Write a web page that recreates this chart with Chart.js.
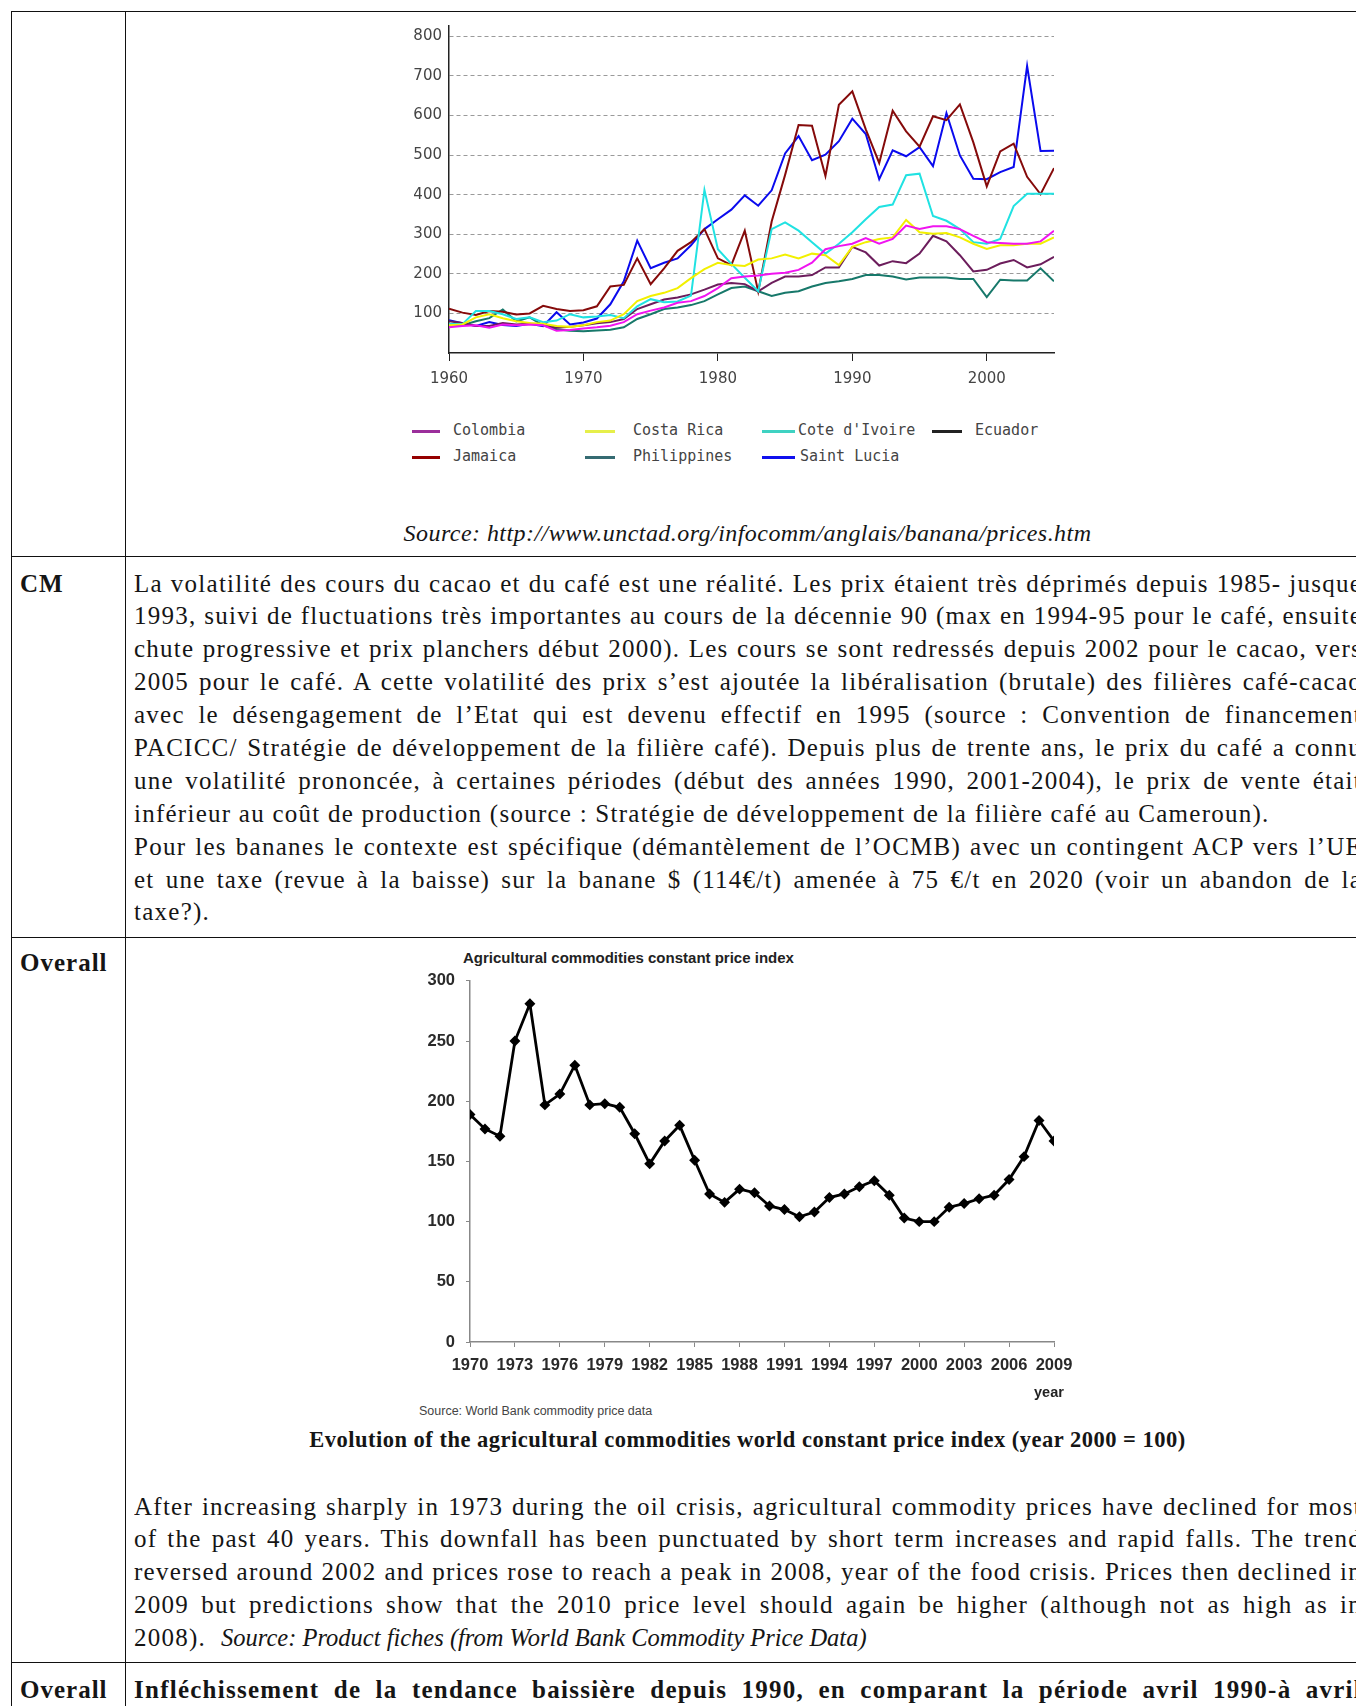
<!DOCTYPE html>
<html>
<head>
<meta charset="utf-8">
<script src="https://cdn.jsdelivr.net/npm/chart.js@4.4.1/dist/chart.umd.min.js"></script>
<style>
  html, body { margin: 0; padding: 0; }
  body {
    width: 1356px; height: 1706px; position: relative; overflow: hidden;
    background: #fff; color: #151515;
    font-family: "Liberation Serif", "Times New Roman", serif;
  }
  .hl { position: absolute; left: 11px; width: 1345px; height: 1px; background: #111; }
  .vl { position: absolute; top: 11px; width: 1px; height: 1695px; background: #111; }
  .label { position: absolute; left: 20px; font-weight: bold; font-size: 25px; letter-spacing: 1px; line-height: 32px; }
  .para { position: absolute; left: 134px; width: 1228px; font-size: 25px; letter-spacing: 1.25px; }
  .para div { height: 32.9px; line-height: 32.9px; overflow: hidden; text-align: justify; text-align-last: justify; }
  .para div.last { text-align-last: left; }
  .para i { letter-spacing: 0; font-size: 24.5px; }
  .centred { position: absolute; left: 125px; width: 1245px; text-align: center; }
  canvas { position: absolute; }
  #legend { position: absolute; left: 0; top: 0; font-family: "DejaVu Sans Mono", monospace; font-size: 15px; color: #444; }
  #legend .sw { position: absolute; height: 3px; }
  #legend .tx { position: absolute; line-height: 18px; white-space: nowrap; }
  .small { position: absolute; font-family: "Liberation Sans", Arial, sans-serif; white-space: nowrap; }
</style>
</head>
<body>

<!-- table rules -->
<div class="hl" style="top:11px"></div>
<div class="hl" style="top:556px"></div>
<div class="hl" style="top:937px"></div>
<div class="hl" style="top:1662px"></div>
<div class="vl" style="left:11px"></div>
<div class="vl" style="left:125px"></div>

<!-- row 1 : banana prices -->
<canvas id="banana" width="700" height="400" style="left:380px;top:10px"></canvas>
<div id="legend"></div>
<div class="centred" style="top:517px;font-size:24px;line-height:32px;font-style:italic;letter-spacing:0.45px">Source: http://www.unctad.org/infocomm/anglais/banana/prices.htm</div>

<!-- row 2 : CM -->
<div class="label" style="top:568px">CM</div>
<div class="para" style="top:567.5px">
  <div>La volatilité des cours du cacao et du café est une réalité. Les prix étaient très déprimés depuis 1985- jusque</div>
  <div>1993, suivi de fluctuations très importantes au cours de la décennie 90 (max en 1994-95 pour le café, ensuite</div>
  <div>chute progressive et prix planchers début 2000). Les cours se sont redressés depuis 2002 pour le cacao, vers</div>
  <div>2005 pour le café. A cette volatilité des prix s’est ajoutée la libéralisation (brutale) des filières café-cacao</div>
  <div>avec le désengagement de l’Etat qui est devenu effectif en 1995 (source : Convention de financement</div>
  <div>PACICC/ Stratégie de développement de la filière café). Depuis plus de trente ans, le prix du café a connu</div>
  <div>une volatilité prononcée, à certaines périodes (début des années 1990, 2001-2004), le prix de vente était</div>
  <div class="last">inférieur au coût de production (source : Stratégie de développement de la filière café au Cameroun).</div>
  <div>Pour les bananes le contexte est spécifique (démantèlement de l’OCMB) avec un contingent ACP vers l’UE</div>
  <div>et une taxe (revue à la baisse) sur la banane $ (114€/t) amenée à 75 €/t en 2020 (voir un abandon de la</div>
  <div class="last">taxe?).</div>
</div>

<!-- row 3 : Overall, price index -->
<div class="label" style="top:947px">Overall</div>
<div class="small" style="left:463px;top:949px;font-size:15px;font-weight:bold;color:#222">Agricultural commodities constant price index</div>
<canvas id="index" width="700" height="430" style="left:400px;top:960px"></canvas>
<div class="small" style="left:1034px;top:1384px;font-size:14.5px;font-weight:bold;color:#222">year</div>
<div class="small" style="left:419px;top:1404px;font-size:12.5px;color:#444">Source: World Bank commodity price data</div>
<div class="centred" style="top:1424px;font-size:22.5px;line-height:32px;font-weight:bold;letter-spacing:0.5px">Evolution of the agricultural commodities world constant price index (year 2000 = 100)</div>
<div class="para" style="top:1490.5px">
  <div>After increasing sharply in 1973 during the oil crisis, agricultural commodity prices have declined for most</div>
  <div>of the past 40 years. This downfall has been punctuated by short term increases and rapid falls. The trend</div>
  <div>reversed around 2002 and prices rose to reach a peak in 2008, year of the food crisis. Prices then declined in</div>
  <div>2009 but predictions show that the 2010 price level should again be higher (although not as high as in</div>
  <div class="last">2008).&nbsp; <i>Source: Product fiches (from World Bank Commodity Price Data)</i></div>
</div>

<!-- row 4 -->
<div class="label" style="top:1674px">Overall</div>
<div class="para" style="top:1673.5px;font-weight:bold">
  <div>Infléchissement de la tendance baissière depuis 1990, en comparant la période avril 1990-à avril</div>
</div>

<script>
// ---- banana prices, 1960-2005 ----
const years = [1960, 1961, 1962, 1963, 1964, 1965, 1966, 1967, 1968, 1969,
               1970, 1971, 1972, 1973, 1974, 1975, 1976, 1977, 1978, 1979,
               1980, 1981, 1982, 1983, 1984, 1985, 1986, 1987, 1988, 1989,
               1990, 1991, 1992, 1993, 1994, 1995, 1996, 1997, 1998, 1999,
               2000, 2001, 2002, 2003, 2004, 2005];

const colombia    = [65, 68, 70, 64, 72, 70, 72, 70, 56, 58,
                     62, 65, 69, 78, 98, 107, 115, 127, 131, 144,
                     164, 189, 193, 196, 200, 203, 210, 228, 262, 270,
                     276, 290, 276, 288, 322, 313, 320, 320, 313, 296,
                     280, 278, 276, 276, 282, 309];
const costaRica   = [70, 72, 90, 98, 88, 80, 76, 74, 68, 66,
                     70, 78, 82, 98, 131, 144, 152, 164, 189, 212,
                     228, 222, 220, 236, 239, 249, 239, 251, 247, 222,
                     268, 280, 288, 292, 336, 305, 301, 303, 292, 276,
                     263, 272, 272, 276, 276, 292];
const coteIvoire  = [73, 73, 106, 106, 98, 86, 90, 78, 82, 98,
                     90, 92, 96, 88, 118, 136, 128, 130, 145, 412,
                     262, 225, 190, 156, 313, 330, 309, 280, 251, 276,
                     305, 338, 369, 375, 449, 453, 346, 334, 313, 280,
                     276, 288, 371, 402, 402, 402];
const ecuador     = [80, 76, 68, 68, 76, 72, 74, 72, 64, 66,
                     70, 75, 78, 86, 111, 123, 135, 140, 148, 160,
                     173, 177, 174, 156, 177, 193, 193, 197, 216, 216,
                     268, 254, 221, 232, 227, 251, 296, 282, 247, 206,
                     210, 226, 235, 216, 224, 243];
const jamaica     = [112, 102, 96, 106, 104, 97, 100, 119, 111, 106,
                     108, 118, 168, 172, 239, 174, 214, 258, 280, 313,
                     239, 222, 309, 155, 332, 450, 576, 574, 447, 627,
                     661, 565, 480, 612, 560, 521, 598, 588, 628, 532,
                     421, 509, 529, 445, 401, 467];
const philippines = [70, 70, 80, 88, 110, 80, 90, 70, 60, 56,
                     55, 57, 59, 65, 86, 98, 111, 115, 121, 131,
                     148, 164, 168, 156, 144, 152, 156, 168, 177, 181,
                     187, 197, 197, 193, 186, 191, 191, 191, 187, 187,
                     141, 185, 183, 183, 214, 181];
const saintLucia  = [83, 75, 68, 78, 71, 68, 74, 68, 103, 72,
                     77, 87, 123, 181, 284, 214, 228, 239, 272, 313,
                     338, 362, 398, 372, 411, 504, 548, 487, 501, 535,
                     592, 553, 439, 512, 497, 520, 472, 606, 499, 440,
                     439, 457, 470, 725, 510, 511];

const seriesNames  = ['Colombia', 'Costa Rica', "Cote d'Ivoire", 'Ecuador', 'Jamaica', 'Philippines', 'Saint Lucia'];
const seriesValues = [colombia, costaRica, coteIvoire, ecuador, jamaica, philippines, saintLucia];
const lineColors   = ['#f014f0', '#f2f000', '#20e2e2', '#6c1d5c', '#850a0a', '#17786a', '#0a0aee'];
const swatchColors = ['#9b2f9b', '#e6ef4a', '#3fd2c2', '#222222', '#950000', '#356b72', '#1010ee'];

const bananaYTicks = [100, 200, 300, 400, 500, 600, 700, 800];
const bananaXTicks = [1960, 1970, 1980, 1990, 2000];

// ---- agricultural commodities constant price index, 1970-2009 ----
const indexYears = [1970, 1971, 1972, 1973, 1974, 1975, 1976, 1977, 1978, 1979,
                    1980, 1981, 1982, 1983, 1984, 1985, 1986, 1987, 1988, 1989,
                    1990, 1991, 1992, 1993, 1994, 1995, 1996, 1997, 1998, 1999,
                    2000, 2001, 2002, 2003, 2004, 2005, 2006, 2007, 2008, 2009];
const priceIndex = [189, 177, 171, 250, 281, 197, 206, 230, 197, 198,
                    195, 173, 148, 167, 180, 151, 123, 116, 127, 124,
                    113, 110, 104, 108, 120, 123, 129, 134, 122, 103,
                    100, 100, 112, 115, 119, 122, 135, 154, 184, 167];
const indexYTicks = [0, 50, 100, 150, 200, 250, 300];
const indexXTicks = [1970, 1973, 1976, 1979, 1982, 1985, 1988, 1991, 1994, 1997, 2000, 2003, 2006, 2009];

// legend layout (page pixels): swatch left, swatch width, text left, row centre
const legendSlots = [
  [412, 28, 453, 431], [585, 30, 633, 431], [762, 33, 798, 431], [932, 30, 975, 431],
  [412, 28, 453, 457], [585, 30, 633, 457], [762, 33, 800, 457]
];

function buildLegend() {
  const box = document.getElementById('legend');
  seriesNames.forEach((name, i) => {
    const [sx, sw, tx, cy] = legendSlots[i];
    const sq = document.createElement('div');
    sq.className = 'sw';
    sq.style.cssText = `left:${sx}px;top:${cy - 1}px;width:${sw}px;background:${swatchColors[i]}`;
    const t = document.createElement('div');
    t.className = 'tx';
    t.style.cssText = `left:${tx}px;top:${cy - 10}px`;
    t.textContent = name;
    box.appendChild(sq);
    box.appendChild(t);
  });
}

// a justified line must stay on one line: tighten its letter spacing if it would wrap
function fitLines() {
  document.querySelectorAll('.para div:not(.last)').forEach(d => {
    d.style.whiteSpace = 'nowrap';
    d.style.textAlignLast = 'left';
    let ls = parseFloat(getComputedStyle(d).letterSpacing) || 0;
    while (d.scrollWidth > d.clientWidth && ls > -1) {
      ls -= 0.05;
      d.style.letterSpacing = ls + 'px';
    }
    d.style.whiteSpace = '';
    d.style.textAlignLast = '';
  });
}

function renderBanana() {
  const ctx = document.getElementById('banana').getContext('2d');
  const datasets = seriesNames.map((name, i) => ({
    label: name,
    data: years.map((y, k) => ({ x: y, y: seriesValues[i][k] })),
    borderColor: lineColors[i],
    backgroundColor: lineColors[i],
    borderWidth: 2,
    pointRadius: 0,
    tension: 0,
    fill: false
  }));

  new Chart(ctx, {
    type: 'line',
    data: { datasets },
    options: {
      responsive: false,
      animation: false,
      layout: { padding: { top: 10, right: 26, left: 0, bottom: 0 } },
      plugins: { legend: { display: false }, tooltip: { enabled: false } },
      scales: {
        x: {
          type: 'linear', min: 1960, max: 2005,
          afterBuildTicks: s => { s.ticks = bananaXTicks.map(v => ({ value: v })); },
          afterFit: s => { s.height = 57; },
          ticks: { color: '#444', padding: 9, font: { family: 'DejaVu Sans', size: 15 }, callback: v => String(v), maxRotation: 0 },
          grid: { drawOnChartArea: false, tickLength: 8, color: '#222' },
          border: { color: '#222', width: 1.5 }
        },
        y: {
          min: 0, max: 826,
          afterBuildTicks: s => { s.ticks = bananaYTicks.map(v => ({ value: v })); },
          afterFit: s => { s.width = 69; },
          ticks: { color: '#444', padding: 7, font: { family: 'DejaVu Sans', size: 15 } },
          grid: { color: '#9a9a9a', drawTicks: false, lineWidth: 1 },
          border: { color: '#222', width: 1.5, dash: [4, 3] }
        }
      }
    }
  });
}

function renderIndex() {
  const ctx = document.getElementById('index').getContext('2d');
  new Chart(ctx, {
    type: 'line',
    data: {
      datasets: [{
        label: 'Agricultural commodities constant price index',
        data: indexYears.map((y, k) => ({ x: y, y: priceIndex[k] })),
        borderColor: '#000',
        backgroundColor: '#000',
        borderWidth: 2.8,
        pointStyle: 'rectRot',
        pointRadius: 3.5,
        tension: 0,
        fill: false
      }]
    },
    options: {
      responsive: false,
      animation: false,
      layout: { padding: { top: 18, right: 46, left: 0, bottom: 0 } },
      plugins: { legend: { display: false }, tooltip: { enabled: false } },
      scales: {
        x: {
          type: 'linear', min: 1970, max: 2009,
          afterBuildTicks: s => { s.ticks = indexXTicks.map(v => ({ value: v })); },
          afterFit: s => { s.height = 48; },
          ticks: { color: '#2a2a2a', padding: 9, maxRotation: 0, autoSkip: false, font: { family: 'Liberation Sans', size: 16.5, weight: 'bold' }, callback: v => String(v) },
          grid: { drawOnChartArea: false, tickLength: 5, color: '#888' },
          border: { color: '#888', width: 1.5 }
        },
        y: {
          min: 0, max: 300,
          afterBuildTicks: s => { s.ticks = indexYTicks.map(v => ({ value: v })); },
          afterFit: s => { s.width = 70; },
          ticks: { color: '#2a2a2a', padding: 11, font: { family: 'Liberation Sans', size: 16.5, weight: 'bold' } },
          grid: { drawOnChartArea: false, tickLength: 4, color: '#888' },
          border: { color: '#888', width: 1.5 }
        }
      }
    }
  });
}

buildLegend();
fitLines();
renderBanana();
renderIndex();
</script>
</body>
</html>
